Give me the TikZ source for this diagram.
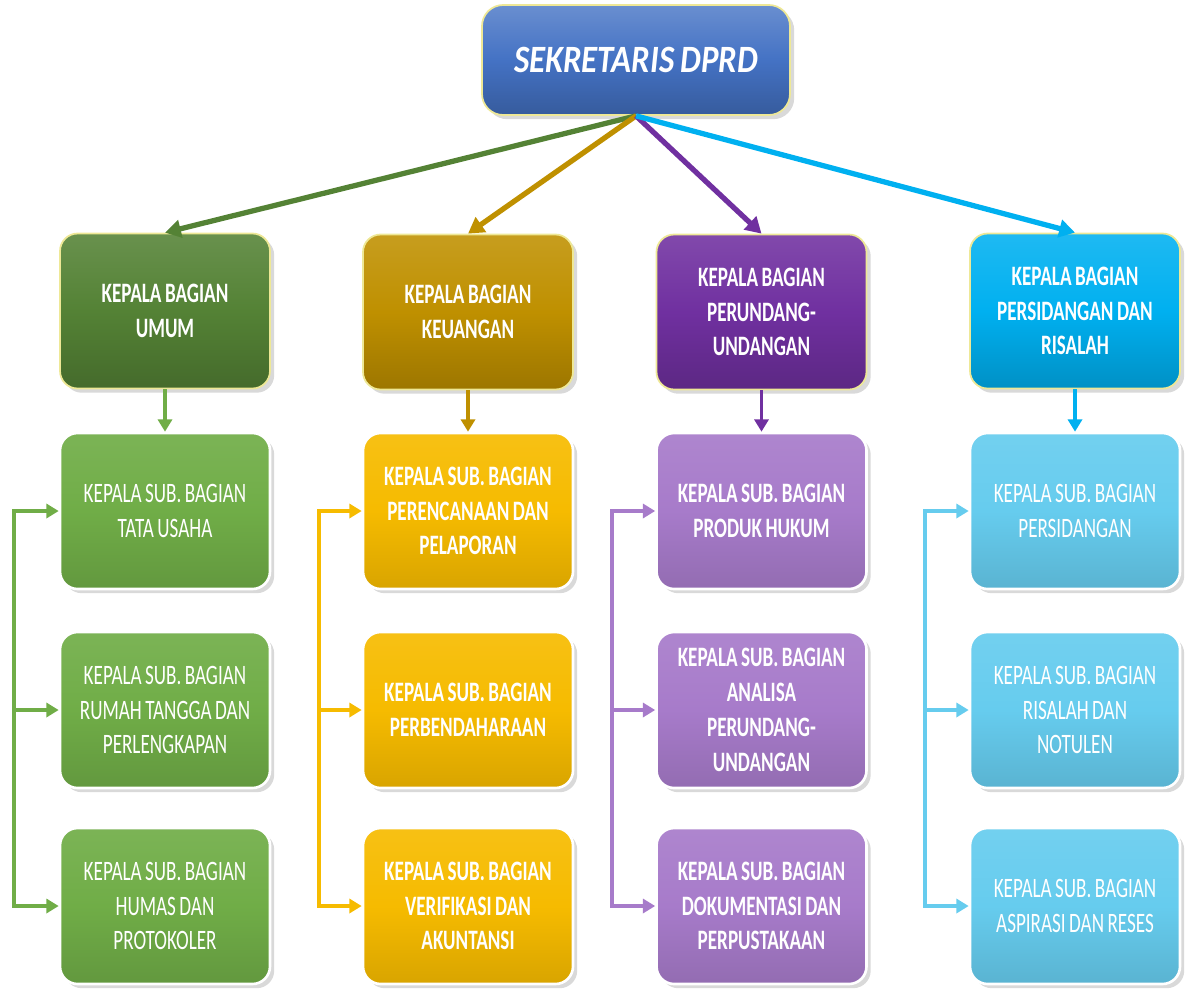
\documentclass[tikz,border=0pt]{standalone}
\usepackage{fontspec}
\setmainfont{Carlito}
\newfontfamily\boxfont[FakeStretch=0.68, WordSpace=0.8]{Carlito}
\newfontfamily\chieffont[FakeStretch=0.85, WordSpace=0.85]{Carlito}
\usetikzlibrary{arrows.meta, positioning, shadows}
\definecolor{CT}{RGB}{68,114,196}
\definecolor{CY}{RGB}{238,232,150}
\definecolor{GD}{RGB}{84,130,53}
\definecolor{YD}{RGB}{191,144,0}
\definecolor{PD}{RGB}{112,48,160}
\definecolor{BD}{RGB}{0,176,240}
\definecolor{GL}{RGB}{112,173,71}
\definecolor{YL}{RGB}{246,187,0}
\definecolor{PL}{RGB}{167,123,202}
\definecolor{BL}{RGB}{102,204,238}

\begin{document}
\begin{tikzpicture}[
  chief/.style={draw=CY, line width=1pt, rounded corners=12pt,
               top color=CT!80!white, bottom color=CT!80!black, middle color=CT,
               minimum width=6.16cm, minimum height=2.2cm,
               align=center, text=white,
               font=\chieffont\fontsize{22}{26}\selectfont\bfseries\itshape,
               drop shadow={opacity=0.3}},
  head/.style={draw=CY, line width=1pt, rounded corners=10pt,
               top color=#1!88!white, bottom color=#1!82!black, middle color=#1,
               minimum width=4.2cm, minimum height=3.1cm, text width=4cm,
               inner sep=2pt, align=flush center, text=white,
               font=\boxfont\fontsize{16}{19.8}\selectfont\bfseries,
               drop shadow={opacity=0.3}},
  sub/.style={draw=white, line width=1.5pt, rounded corners=10pt,
               top color=#1!92!white, bottom color=#1!88!black, middle color=#1,
               minimum width=4.2cm, minimum height=3.12cm, text width=4cm,
               inner sep=2pt, align=flush center, text=white,
               font=\boxfont\fontsize{16}{19.8}\selectfont,
               drop shadow={opacity=0.3}},
  subb/.style={sub=#1, font=\boxfont\fontsize{16}{19.8}\selectfont\bfseries},
  arr/.style={-{Triangle[length=9pt, width=10pt]}, line width=3pt, draw=#1},
  link/.style={-{Triangle[length=7pt, width=8pt]}, line width=2.2pt, draw=#1},
  brk/.style={{Triangle[length=7pt, width=8pt]}-{Triangle[length=7pt, width=8pt]},
              line width=2.2pt, draw=#1}
]
\useasboundingbox (0,0) rectangle (23.82,-19.88);

\node[chief] (sek) at (12.72,-1.2) {SEKRETARIS DPRD};

% Kepala bagian
\node[head=GD] (umum) at (3.3,-6.22)   {KEPALA BAGIAN\\UMUM};
\node[head=YD] (keu)  at (9.36,-6.24)  {KEPALA BAGIAN\\KEUANGAN};
\node[head=PD] (pu)   at (15.23,-6.24) {KEPALA BAGIAN\\PERUNDANG-\\UNDANGAN};
\node[head=BD] (ps)   at (21.5,-6.22)  {KEPALA BAGIAN\\PERSIDANGAN DAN\\RISALAH};

% Sub bagian
\node[sub=GL]  (tu)   at (3.3,-10.22)   {KEPALA SUB. BAGIAN\\TATA USAHA};
\node[sub=GL]  (rt)   at (3.3,-14.2)    {KEPALA SUB. BAGIAN\\RUMAH TANGGA DAN\\PERLENGKAPAN};
\node[sub=GL]  (hp)   at (3.3,-18.12)   {KEPALA SUB. BAGIAN\\HUMAS DAN\\PROTOKOLER};

\node[subb=YL] (pp)   at (9.36,-10.22)  {KEPALA SUB. BAGIAN\\PERENCANAAN DAN\\PELAPORAN};
\node[subb=YL] (pb)   at (9.36,-14.2)   {KEPALA SUB. BAGIAN\\PERBENDAHARAAN};
\node[subb=YL] (va)   at (9.36,-18.12)  {KEPALA SUB. BAGIAN\\VERIFIKASI DAN\\AKUNTANSI};

\node[subb=PL] (ph)   at (15.23,-10.22) {KEPALA SUB. BAGIAN\\PRODUK HUKUM};
\node[subb=PL] (ap)   at (15.23,-14.2)  {KEPALA SUB. BAGIAN\\ANALISA\\PERUNDANG-\\UNDANGAN};
\node[subb=PL] (dp)   at (15.23,-18.12) {KEPALA SUB. BAGIAN\\DOKUMENTASI DAN\\PERPUSTAKAAN};

\node[sub=BL]  (sd)   at (21.5,-10.22)  {KEPALA SUB. BAGIAN\\PERSIDANGAN};
\node[sub=BL]  (rn)   at (21.5,-14.2)   {KEPALA SUB. BAGIAN\\RISALAH DAN\\NOTULEN};
\node[sub=BL]  (ar)   at (21.5,-18.12)  {KEPALA SUB. BAGIAN\\ASPIRASI DAN RESES};

% Sekretaris ke bagian
\draw[arr=GD] (sek.south) -- (umum.north);
\draw[arr=YD] (sek.south) -- (keu.north);
\draw[arr=PD] (sek.south) -- (pu.north);
\draw[arr=BD] (sek.south) -- (ps.north);

% Bagian ke sub bagian
\draw[link=GL] (umum) -- (tu);
\draw[link=YD] (keu)  -- (pp);
\draw[link=PD] (pu)   -- (ph);
\draw[link=BD] (ps)   -- (sd);

% Garis samping
\draw[brk=GL]  (tu.west) -- ++(-0.9,0) |- (hp.west);
\draw[link=GL] (tu.west) ++(-0.9,0) |- (rt.west);
\draw[brk=YL]  (pp.west) -- ++(-0.86,0) |- (va.west);
\draw[link=YL] (pp.west) ++(-0.86,0) |- (pb.west);
\draw[brk=PL]  (ph.west) -- ++(-0.86,0) |- (dp.west);
\draw[link=PL] (ph.west) ++(-0.86,0) |- (ap.west);
\draw[brk=BL]  (sd.west) -- ++(-0.88,0) |- (ar.west);
\draw[link=BL] (sd.west) ++(-0.88,0) |- (rn.west);
\end{tikzpicture}
\end{document}
